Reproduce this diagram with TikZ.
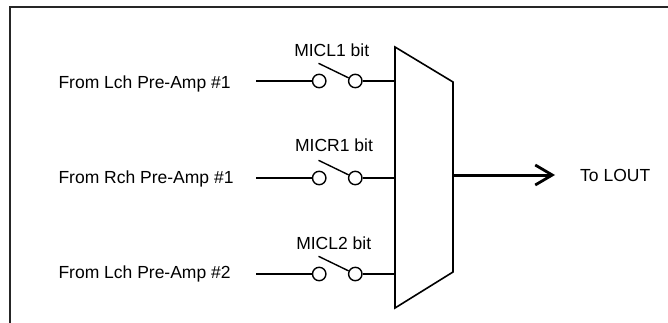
\documentclass[tikz,border=0pt]{standalone}
\usepackage{fontspec}
\setmainfont{Liberation Sans}
\usetikzlibrary{arrows.meta}
\begin{document}
\begin{tikzpicture}[x=1pt,y=-1pt,
  wire/.style={line width=1.4pt,black},
  contact/.style={circle,draw,line width=1.4pt,minimum size=13.4pt,inner sep=0pt,fill=white},
  lbl/.style={font=\fontsize{17.5}{20}\selectfont,inner sep=0pt,anchor=base west},
  swlbl/.style={font=\fontsize{17.5}{20}\selectfont,inner sep=0pt,anchor=base},
  outwire/.style={line width=3pt,black,-{Straight Barb[length=17pt,width=20pt,line width=2.8pt]}}
]
\useasboundingbox (0,0) rectangle (668,323);
\clip (0,0) rectangle (668,323);
% frame
\draw[line width=1.4pt,black!85] (10,340) -- (10,7) -- (690,7);
% mux
\coordinate (m1) at (395,47);
\coordinate (m2) at (453,82);
\coordinate (m3) at (453,272);
\coordinate (m4) at (395,308);
\draw[wire,line width=1.6pt,line join=miter] (m1) -- (m2) -- (m3) -- (m4) -- cycle;
\coordinate (out) at (453,175);
\coordinate (tip) at (555,175);
\draw[outwire] (out) -- (tip);
\node[lbl] (tolout) at (580,181.5) {To LOUT};
% rows
\foreach \r/\y/\ty/\lb/\lx/\ly/\src in {
  1/81/88.3/MICL1 bit/331.7/56.7/From Lch Pre-Amp \#1,
  2/178/183.3/MICR1 bit/334/151.7/From Rch Pre-Amp \#1,
  3/274/278.3/MICL2 bit/333.7/249.3/From Lch Pre-Amp \#2}{
  \node[lbl] (src\r) at (58.3,\ty) {\src};
  \coordinate (in\r) at (256,\y);
  \node[contact] (ca\r) at (319.2,\y) {};
  \node[contact] (cb\r) at (355.3,\y) {};
  \coordinate (mx\r) at (395,\y);
  \coordinate (bl\r) at (318.5,\y-17.7);
  \draw[wire] (in\r) -- (ca\r.west);
  \draw[wire] (cb\r.east) -- (mx\r);
  \draw[wire] (bl\r) -- (cb\r.155);
  \node[swlbl] (sw\r) at (\lx,\ly) {\lb};
}
\end{tikzpicture}
\end{document}
